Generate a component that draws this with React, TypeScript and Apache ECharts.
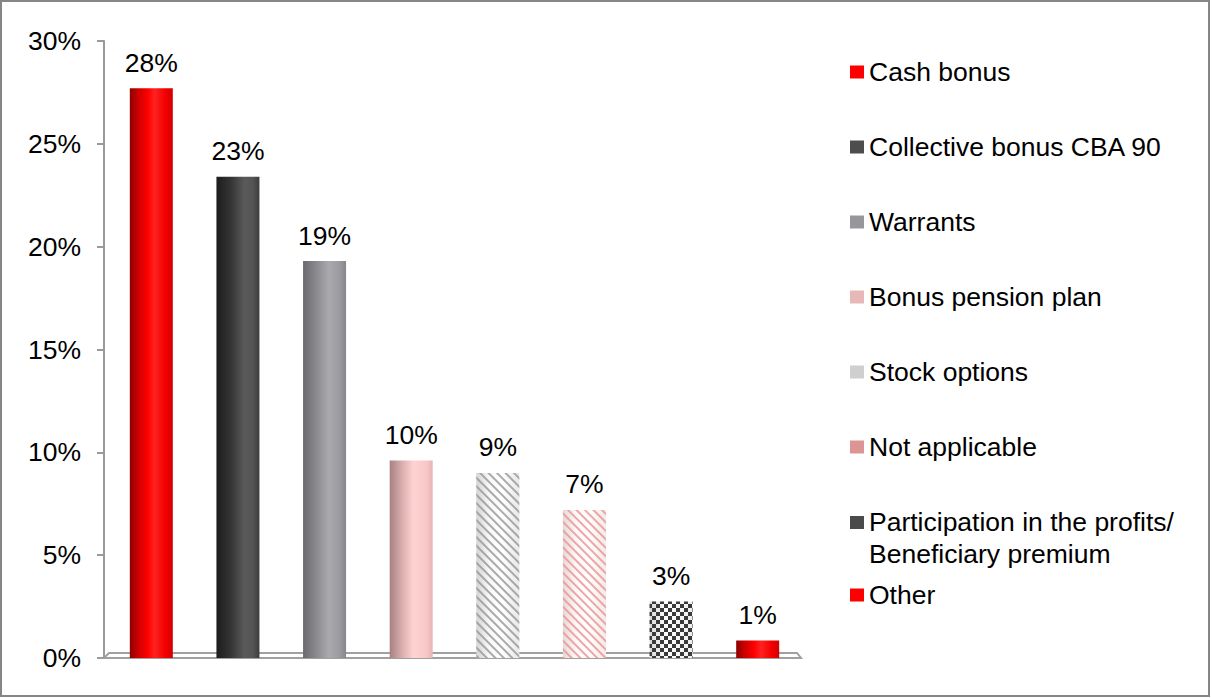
import React, { useEffect, useRef } from "react";
import * as echarts from "echarts";

const categories = [
  "Cash bonus",
  "Collective bonus CBA 90",
  "Warrants",
  "Bonus pension plan",
  "Stock options",
  "Not applicable",
  "Participation in the profits/ Beneficiary premium",
  "Other",
];
const legendLabels = [
  "Cash bonus",
  "Collective bonus CBA 90",
  "Warrants",
  "Bonus pension plan",
  "Stock options",
  "Not applicable",
  "Participation in the profits/\nBeneficiary premium",
  "Other",
];
const values = [27.7, 23.4, 19.3, 9.6, 9.0, 7.2, 2.75, 0.85];
const yTicks = [0, 5, 10, 15, 20, 25, 30];

const FONT = "'Liberation Sans', Arial, sans-serif";
const FS = 26.5;

const grad = (stops: [number, string][]) =>
  new echarts.graphic.LinearGradient(
    0, 0, 1, 0,
    stops.map(([offset, color]) => ({ offset, color }))
  );

const redGrad = () =>
  grad([
    [0, "#8c0000"],
    [0.18, "#c80000"],
    [0.42, "#ff0000"],
    [0.58, "#ff2222"],
    [0.82, "#f40000"],
    [1, "#d20000"],
  ]);

const barFills = [
  redGrad(),
  grad([
    [0, "#1c1c1c"],
    [0.35, "#363636"],
    [0.65, "#5a5a5a"],
    [0.85, "#545454"],
    [1, "#3c3c3c"],
  ]),
  grad([
    [0, "#6a6a6e"],
    [0.35, "#8e8e93"],
    [0.6, "#a9a9ae"],
    [0.85, "#9a9aa0"],
    [1, "#86868b"],
  ]),
  grad([
    [0, "#a88080"],
    [0.3, "#dcb0b0"],
    [0.55, "#ffd2d2"],
    [0.85, "#f8c8c8"],
    [1, "#e8b4b4"],
  ]),
  grad([
    [0, "#d4d4d4"],
    [0.3, "#f8f8f8"],
    [0.6, "#ffffff"],
    [1, "#e8e8e8"],
  ]),
  grad([
    [0, "#e4d8d8"],
    [0.3, "#fcf8f8"],
    [0.6, "#ffffff"],
    [1, "#f2eaea"],
  ]),
  grad([
    [0, "#d8d8d8"],
    [0.4, "#ffffff"],
    [1, "#eeeeee"],
  ]),
  redGrad(),
];

const stripe = (color: string) => ({
  symbol: "rect",
  symbolSize: 1,
  dashArrayX: [1, 0],
  dashArrayY: [1.6, 3.4],
  rotation: Math.PI / 4,
  color,
});

const barDecals: any[] = [
  null,
  null,
  null,
  null,
  stripe("rgba(150,150,150,0.8)"),
  stripe("rgba(238,150,150,0.85)"),
  {
    symbol: "rect",
    symbolSize: 1,
    dashArrayX: [[4, 4], [0, 4, 4, 0]],
    dashArrayY: [4, 0],
    rotation: 0,
    color: "#3a3a3a",
  },
  null,
];

const legendColors = [
  "#ff0000",
  "#4d4d4d",
  "#96969b",
  "#e6b8b8",
  "#cfcfcf",
  "#dc9494",
  "#4a4a4a",
  "#ff0000",
];
const legendCenters = [72, 147, 222, 297, 372, 447, 522, 595];

export default function App() {
  const ref = useRef<HTMLDivElement>(null);
  useEffect(() => {
    if (!ref.current) return;
    const chart = echarts.init(ref.current, null, { renderer: "svg" });

    const series = categories.map((name, i) => ({
      name,
      type: "bar",
      barWidth: 43,
      barGap: "-100%",
      data: values.map((v, j) => (j === i ? v : "-")),
      itemStyle: {
        color: barFills[i],
        ...(barDecals[i] ? { decal: barDecals[i] } : {}),
      },
      label: {
        show: true,
        position: "top",
        distance: 12,
        formatter: (p: any) => Math.round(p.value) + "%",
        fontSize: FS,
        fontFamily: FONT,
        color: "#000",
      },
    }));

    const legends = categories.map((name, i) => {
      const twoLine = i === 6;
      return {
        data: [
          {
            name,
            itemStyle: { color: legendColors[i], decal: "none" },
          },
        ],
        orient: "vertical",
        left: 850,
        top: legendCenters[i] - 16,
        padding: 0,
        selectedMode: false,
        itemWidth: 14,
        itemHeight: twoLine ? 44 : 13,
        icon: twoLine ? "path://M0 0H14V13H0Z M0 43.95H0.05V44H0Z" : "rect",
        formatter: () => legendLabels[i],
        textStyle: {
          fontSize: FS,
          lineHeight: 32,
          fontFamily: FONT,
          color: "#000",
        },
      };
    });

    chart.setOption({
      animation: false,
      backgroundColor: "#fff",
      grid: { left: 108, top: 41, width: 693, height: 617 },
      xAxis: {
        type: "category",
        data: categories,
        axisLine: { show: false },
        axisTick: { show: false },
        axisLabel: { show: false },
        splitLine: { show: false },
      },
      yAxis: {
        type: "value",
        min: yTicks[0],
        max: yTicks[yTicks.length - 1],
        interval: 5,
        offset: 4,
        splitLine: { show: false },
        axisLine: { show: true, lineStyle: { color: "#9a9a9a", width: 2 } },
        axisTick: { show: true, length: 7, lineStyle: { color: "#9a9a9a", width: 2 } },
        axisLabel: {
          margin: 23,
          formatter: (v: number) => v + "%",
          fontSize: FS,
          fontFamily: FONT,
          color: "#000",
        },
      },
      legend: legends,
      graphic: [
        {
          type: "rect",
          z: 0,
          shape: { x: 1, y: 1, width: 1208, height: 695 },
          style: { fill: "none", stroke: "#868686", lineWidth: 2 },
          silent: true,
        },
        {
          type: "polygon",
          z: 0,
          shape: {
            points: [
              [104, 658],
              [109, 653],
              [797, 653],
              [801, 658],
            ],
          },
          style: { fill: "#ffffff", stroke: "#a0a0a0", lineWidth: 2 },
          silent: true,
        },
      ],
      series,
    });
    return () => chart.dispose();
  }, []);
  return (
    <div
      ref={ref}
      style={{ position: "absolute", left: 0, top: 0, width: 1212, height: 698 }}
    />
  );
}
